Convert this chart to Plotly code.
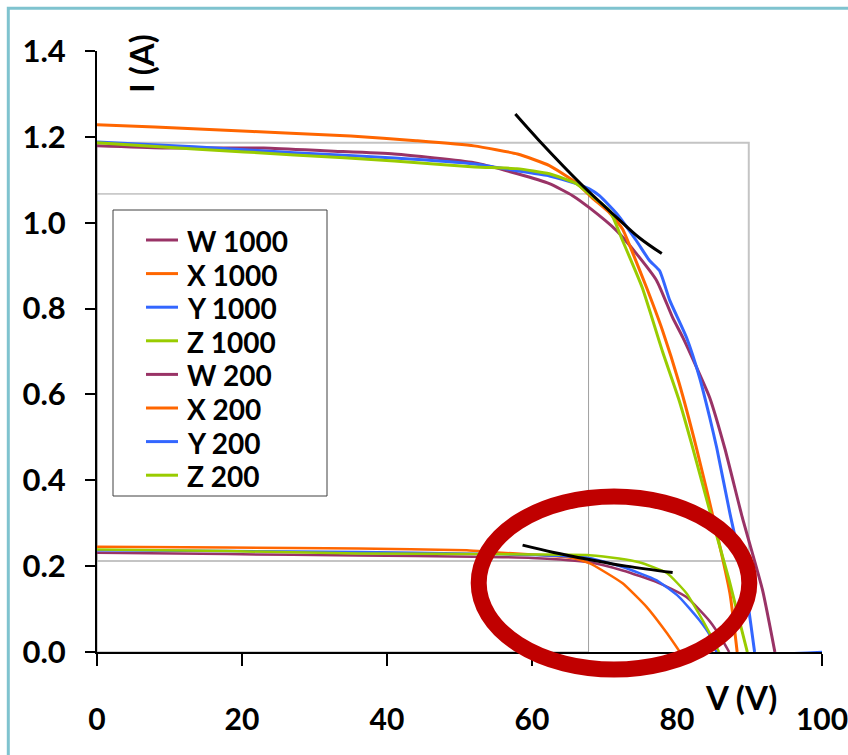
import plotly.graph_objects as go

# ---------------- data ----------------
names = ["W 1000", "X 1000", "Y 1000", "Z 1000", "W 200", "X 200", "Y 200", "Z 200"]
colors = ["#993366", "#FF6600", "#3366FF", "#99CC00",
          "#993366", "#FF6600", "#3366FF", "#99CC00"]

W1000_V = [0, 9, 23, 32, 41, 52, 58, 62.4, 65.6, 67.9, 71.7, 74.4, 77.2, 79.4, 80.8, 82.7, 84.5, 86.6, 89.0, 91.8, 93.5]
W1000_I = [1.179, 1.174, 1.174, 1.167, 1.160, 1.140, 1.114, 1.091, 1.063, 1.035, 0.981, 0.928, 0.865, 0.779, 0.733, 0.663, 0.593, 0.474, 0.314, 0.144, 0]

X1000_V = [0, 8, 17, 26, 35, 44, 52, 58, 62.4, 66.1, 68.3, 70.7, 72.5, 74.0, 75.8, 78.0, 80.3, 82.7, 85.5, 87.3, 88.3]
X1000_I = [1.228, 1.223, 1.216, 1.209, 1.202, 1.191, 1.179, 1.160, 1.133, 1.093, 1.058, 1.023, 0.985, 0.925, 0.849, 0.749, 0.626, 0.474, 0.277, 0.137, 0]

Y1000_V = [0, 13.4, 27.2, 41, 52.1, 57.9, 62.4, 66.1, 67.9, 69.3, 71.7, 74.4, 76.2, 77.6, 79.0, 81.3, 83.1, 84.5, 85.5, 87.3, 89.3, 90.7]
Y1000_I = [1.188, 1.177, 1.163, 1.151, 1.137, 1.121, 1.109, 1.091, 1.079, 1.063, 1.021, 0.958, 0.912, 0.888, 0.819, 0.733, 0.640, 0.547, 0.474, 0.323, 0.167, 0]

Z1000_V = [0, 13.4, 27.2, 41, 52.1, 57.9, 62.4, 66.1, 67.9, 70.7, 72.5, 75.2, 78.0, 80.3, 82.0, 84.5, 87.2, 89.7]
Z1000_I = [1.186, 1.172, 1.158, 1.144, 1.130, 1.126, 1.114, 1.091, 1.067, 1.028, 0.958, 0.849, 0.700, 0.586, 0.486, 0.330, 0.167, 0]

W200_V = [0, 18, 36, 52, 60, 67.9, 72.5, 77.2, 81.3, 84.5, 86.0, 87.2]
W200_I = [0.231, 0.228, 0.225, 0.222, 0.219, 0.209, 0.190, 0.163, 0.128, 0.072, 0.035, 0]

X200_V = [0, 18, 36, 51, 54.6, 60, 65.6, 67.9, 70, 72.5, 75.8, 78.6, 80.4]
X200_I = [0.245, 0.2435, 0.241, 0.237, 0.2326, 0.227, 0.219, 0.207, 0.187, 0.160, 0.105, 0.044, 0]

Y200_V = [0, 18, 36, 52, 60, 67.9, 72.5, 77.2, 80.3, 83.1, 84.5, 85.5, 100]
Y200_I = [0.237, 0.235, 0.233, 0.229, 0.226, 0.219, 0.198, 0.167, 0.128, 0.074, 0.040, 0, 0]

Z200_V = [0, 18, 36, 52.4, 60, 67.9, 72, 74.8, 78.6, 81.3, 83, 84.5, 85.8]
Z200_I = [0.239, 0.235, 0.2295, 0.228, 0.227, 0.2256, 0.218, 0.209, 0.184, 0.137, 0.09, 0.044, 0]

# black max-power tangent curves
tan1000_V = [57.7, 61.0, 67.0, 71.7, 74.8, 77.9]
tan1000_I = [1.253, 1.191, 1.086, 1.012, 0.965, 0.928]
tan200_V = [58.7, 63.0, 67.9, 73.0, 79.4]
tan200_I = [0.249, 0.232, 0.2156, 0.200, 0.185]

# grey guide boxes
box_outer_V = [0, 89.9]
box_outer_I = [0.212, 1.186]
box_inner_V = [0, 67.8]
box_inner_I = [0, 1.067]

x_ticks = [0, 20, 40, 60, 80, 100]
y_ticks = [0.0, 0.2, 0.4, 0.6, 0.8, 1.0, 1.2, 1.4]

series_V = [W1000_V, X1000_V, Y1000_V, Z1000_V, W200_V, X200_V, Y200_V, Z200_V]
series_I = [W1000_I, X1000_I, Y1000_I, Z1000_I, W200_I, X200_I, Y200_I, Z200_I]
widths = [3, 3, 3, 3, 2.5, 2.5, 2.5, 2.5]

# ---------------- figure ----------------
W, H = 848, 755
L, R, T, B = 97, 26, 51, 103
PW, PH = W - L - R, H - T - B


def px(x):
    return (x - L) / PW


def py(y):
    return 1 - (y - T) / PH


FONT = "Lato"

fig = go.Figure()
for name, v, i, c, w in zip(names, series_V, series_I, colors, widths):
    fig.add_trace(go.Scatter(x=v, y=i, mode="lines", name=name,
                             line=dict(color=c, width=w, shape="spline", smoothing=0.5),
                             showlegend=False))

for v, i in [(tan1000_V, tan1000_I), (tan200_V, tan200_I)]:
    fig.add_trace(go.Scatter(x=v, y=i, mode="lines",
                             line=dict(color="black", width=3, shape="spline"),
                             showlegend=False, hoverinfo="skip"))

shapes = [
    dict(type="rect", xref="x", yref="y", x0=box_outer_V[0], x1=box_outer_V[1],
         y0=box_outer_I[0], y1=box_outer_I[1], line=dict(color="#C4C4C4", width=2),
         layer="below"),
    dict(type="rect", xref="x", yref="y", x0=box_inner_V[0], x1=box_inner_V[1],
         y0=box_inner_I[0], y1=box_inner_I[1], line=dict(color="#A0A0A0", width=1),
         layer="below"),
    # red highlight ellipse
    dict(type="circle", xref="paper", yref="paper", x0=px(478.7), x1=px(749.3),
         y0=py(669.5), y1=py(496.5), line=dict(color="#C00000", width=16)),
    # outer light-blue frame
    dict(type="rect", xref="paper", yref="paper", x0=px(8.3), x1=px(900),
         y0=py(820), y1=py(8.3), line=dict(color="#7FC3CF", width=3)),
    # legend box
    dict(type="rect", xref="paper", yref="paper", x0=px(113), x1=px(327),
         y0=py(496), y1=py(210), line=dict(color="#404040", width=1),
         fillcolor="white"),
]

annotations = []
row0, step = 240, 33.6
for k, (name, c) in enumerate(zip(names, colors)):
    yy = row0 + k * step
    shapes.append(dict(type="line", xref="paper", yref="paper", x0=px(146), x1=px(178),
                       y0=py(yy), y1=py(yy), line=dict(color=c, width=3)))
    annotations.append(dict(xref="paper", yref="paper", x=px(185), y=py(yy + 1),
                            xanchor="left", yanchor="middle", text=name, showarrow=False,
                            font=dict(family=FONT, size=28, color="black", weight="bold")))

annotations.append(dict(xref="paper", yref="paper", x=px(141), y=py(64), text="I (A)",
                        textangle=-90, showarrow=False, xanchor="center", yanchor="middle",
                        font=dict(family=FONT, size=33, color="black", weight="bold")))
annotations.append(dict(xref="paper", yref="paper", x=px(741), y=py(697), text="V (V)",
                        showarrow=False, xanchor="center", yanchor="middle",
                        font=dict(family=FONT, size=33, color="black", weight="bold")))

fig.update_layout(
    width=W, height=H, margin=dict(l=L, r=R, t=T, b=B, pad=0, autoexpand=False),
    paper_bgcolor="white", plot_bgcolor="white", showlegend=False,
    shapes=shapes, annotations=annotations,
    xaxis=dict(range=[0, 100], tickvals=x_ticks, ticktext=[str(t) for t in x_ticks],
               showline=True, linecolor="black", linewidth=2, ticks="outside",
               ticklen=12, tickwidth=2, tickcolor="black", showgrid=False, zeroline=False,
               tickfont=dict(family=FONT, size=30, color="black", weight="bold"),
               ticklabelstandoff=28, layer="below traces",
               automargin=False, ticklabeloverflow="allow"),
    yaxis=dict(range=[0, 1.4], tickvals=y_ticks, ticktext=[f"{t:.1f}" for t in y_ticks],
               showline=True, linecolor="black", linewidth=2, ticks="outside",
               ticklen=10, tickwidth=2, tickcolor="black", showgrid=False, zeroline=False,
               tickfont=dict(family=FONT, size=31, color="black", weight="bold"),
               ticklabelstandoff=13, layer="below traces",
               automargin=False, ticklabeloverflow="allow"),
)

fig.write_html("out.html")
